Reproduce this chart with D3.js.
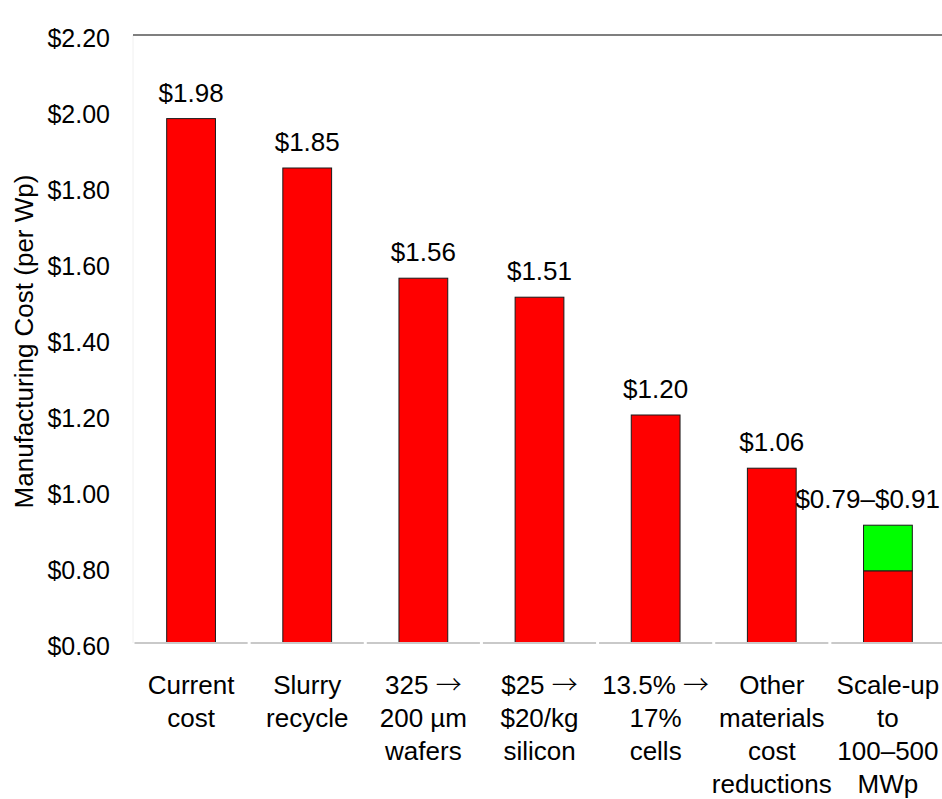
<!DOCTYPE html>
<html>
<head>
<meta charset="utf-8">
<script src="https://cdn.jsdelivr.net/npm/d3@7"></script>
<style>
  html, body { margin: 0; padding: 0; background: #fff; overflow: hidden; }
  svg { display: block; font-family: "Liberation Sans", Arial, sans-serif; }
</style>
</head>
<body>
<svg id="chart" width="942" height="799"></svg>
<script>
// ---- data ----
const categories = [
  ["Current", "cost"],
  ["Slurry", "recycle"],
  ["325 →", "200 µm", "wafers"],
  ["$25 →", "$20/kg", "silicon"],
  ["13.5% →", "17%", "cells"],
  ["Other", "materials", "cost", "reductions"],
  ["Scale-up", "to", "100–500", "MWp"]
];
const baseValues = [1.98, 1.85, 1.56, 1.51, 1.20, 1.06, 0.79];
const rangeTops  = [null, null, null, null, null, null, 0.91];
const valueLabels = ["$1.98", "$1.85", "$1.56", "$1.51", "$1.20", "$1.06", "$0.79–$0.91"];
const yTicks = [0.60, 0.80, 1.00, 1.20, 1.40, 1.60, 1.80, 2.00, 2.20];
const yTitle = "Manufacturing Cost (per Wp)";

// ---- layout ----
const W = 942, H = 799;
const plot = { left: 133, right: 946, top: 35, bottom: 643 };
const svg = d3.select("#chart");

const x = d3.scaleBand()
  .domain(d3.range(categories.length))
  .range([plot.left, plot.right])
  .padding(0);
const y = d3.scaleLinear().domain([0.6, 2.2]).range([plot.bottom, plot.top]);
const barW = x.bandwidth() * 0.42;
const barX = i => x(i) + (x.bandwidth() - barW) / 2;

// faint left axis line
svg.append("line")
  .attr("x1", plot.left).attr("x2", plot.left)
  .attr("y1", y(2.2)).attr("y2", y(0.6))
  .attr("stroke", "#f0f0f0").attr("stroke-width", 1);

// top border line
svg.append("line")
  .attr("x1", plot.left).attr("x2", W)
  .attr("y1", y(2.2)).attr("y2", y(2.2))
  .attr("stroke", "#7f7f7f").attr("stroke-width", 2);

// y tick labels
svg.append("g").selectAll("text")
  .data(yTicks).join("text")
  .attr("x", 110)
  .attr("y", d => y(d) + 3)
  .attr("dy", "0.35em")
  .attr("text-anchor", "end")
  .attr("font-size", 25)
  .attr("fill", "#000")
  .text(d => "$" + d.toFixed(2));

// y title
svg.append("text")
  .attr("transform", `translate(33, ${(175 + 508) / 2}) rotate(-90)`)
  .attr("text-anchor", "middle")
  .attr("font-size", 26)
  .attr("fill", "#000")
  .text(yTitle);

// bars (base, red)
svg.append("g").selectAll("rect")
  .data(baseValues).join("rect")
  .attr("x", (d, i) => barX(i))
  .attr("width", barW)
  .attr("y", d => y(d))
  .attr("height", d => y(0.6) - y(d))
  .attr("fill", "#ff0000")
  .attr("stroke", "#1a1a1a")
  .attr("stroke-width", 1);

// range bars (green)
svg.append("g").selectAll("rect")
  .data(rangeTops.map((t, i) => ({ t, i })).filter(d => d.t != null)).join("rect")
  .attr("x", d => barX(d.i))
  .attr("width", barW)
  .attr("y", d => y(d.t))
  .attr("height", d => y(baseValues[d.i]) - y(d.t))
  .attr("fill", "#00ff00")
  .attr("stroke", "#1a1a1a")
  .attr("stroke-width", 1);

// bottom axis segments (light gray, per category)
svg.append("g").selectAll("line")
  .data(categories).join("line")
  .attr("x1", (d, i) => x(i) + 1.5)
  .attr("x2", (d, i) => x(i) + x.bandwidth() - 1.5)
  .attr("y1", y(0.6)).attr("y2", y(0.6))
  .attr("stroke", "#c9c9c9").attr("stroke-width", 2);

// value labels
svg.append("g").selectAll("text")
  .data(valueLabels).join("text")
  .attr("x", (d, i) => x(i) + x.bandwidth() / 2)
  .attr("y", (d, i) => y(rangeTops[i] != null ? rangeTops[i] : baseValues[i]) - 17)
  .attr("text-anchor", "middle")
  .attr("font-size", 26)
  .attr("fill", "#000")
  .text(d => d)
  .each(function () {
    const len = this.getComputedTextLength();
    const cx = +this.getAttribute("x");
    if (cx + len / 2 > W - 2) this.setAttribute("x", W - 2 - len / 2);
  });

// category labels (arrow drawn with a font whose arrow is long and thin)
const catG = svg.append("g");
categories.forEach((lines, i) => {
  lines.forEach((ln, j) => {
    const t = catG.append("text")
      .attr("x", x(i) + x.bandwidth() / 2)
      .attr("y", 694 + j * 33)
      .attr("text-anchor", "middle")
      .attr("font-size", 26)
      .attr("fill", "#000");
    const parts = ln.split(/(→)/);
    parts.forEach(p => {
      if (!p) return;
      const s = t.append("tspan").text(p);
      if (p === "→") s.attr("font-family", "'Noto Sans CJK JP', sans-serif").attr("font-weight", 300);
    });
  });
});
</script>
</body>
</html>
